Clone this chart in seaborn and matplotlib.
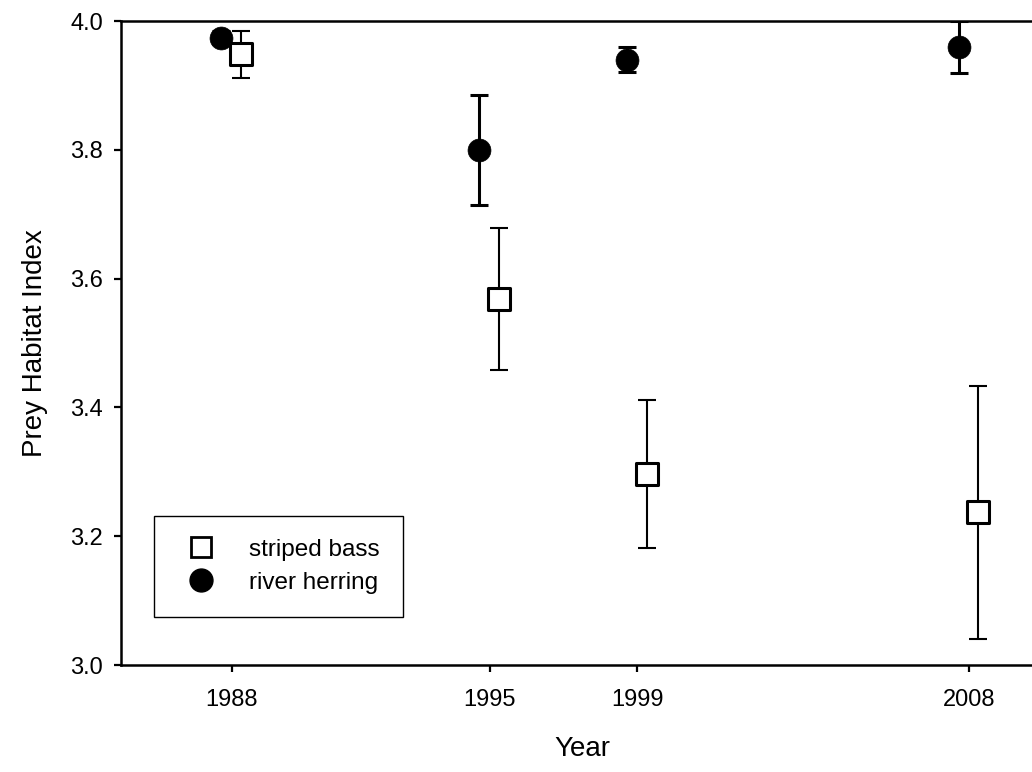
import numpy as np
import pandas as pd
import matplotlib
matplotlib.use("Agg")
import matplotlib.pyplot as plt
import seaborn as sns
from matplotlib.lines import Line2D

# Survey years and prey habitat index (mean and error) per species
years = [1988, 1995, 1999, 2008]
bass_mean = [3.948, 3.568, 3.296, 3.237]
bass_err = [0.036, 0.110, 0.115, 0.196]
herring_mean = [3.974, 3.800, 3.940, 3.960]
herring_err = [0.010, 0.085, 0.019, 0.040]

# small horizontal offsets so the two species do not overlap
bass_shift = 0.25
herring_shift = -0.28

sns.set_theme(style="ticks")
plt.rcParams["font.family"] = ["Liberation Sans", "DejaVu Sans"]
plt.rcParams["text.color"] = "black"
plt.rcParams["axes.labelcolor"] = "black"

df = pd.DataFrame({
    "Year": np.concatenate([np.array(years) + herring_shift, np.array(years) + bass_shift]),
    "Index": herring_mean + bass_mean,
    "err": herring_err + bass_err,
    "Species": ["river herring"] * 4 + ["striped bass"] * 4,
})
herr = df[df["Species"] == "river herring"]
bass = df[df["Species"] == "striped bass"]

fig = plt.figure(figsize=(10.32, 7.72), dpi=100)
ax = fig.add_axes([121 / 1032, 107 / 772, 922 / 1032, 644 / 772])

# river herring: thick error bars, filled circles
ax.errorbar(herr["Year"], herr["Index"], yerr=herr["err"], fmt="none",
            ecolor="black", elinewidth=2.2, capsize=6.7, capthick=2.2, zorder=2)
sns.scatterplot(data=herr, x="Year", y="Index", marker="o", s=16.5 ** 2,
                color="black", edgecolor="black", linewidth=0.5, ax=ax,
                zorder=3, legend=False)

# striped bass: thin error bars, open squares
ax.errorbar(bass["Year"], bass["Index"], yerr=bass["err"], fmt="none",
            ecolor="black", elinewidth=1.5, capsize=6.7, capthick=1.5, zorder=4)
sns.scatterplot(data=bass, x="Year", y="Index", marker="s", s=15.5 ** 2,
                color="white", edgecolor="black", linewidth=2.2, ax=ax,
                zorder=5, legend=False)

ax.set_xlim(1985, 2010)
ax.set_ylim(3.0, 4.0)
ax.set_xticks(years)
ax.set_xticklabels([str(y) for y in years])
ax.set_yticks(np.arange(3.0, 4.01, 0.2))
ax.set_yticklabels([f"{v:.1f}" for v in np.arange(3.0, 4.01, 0.2)])

for side in ["left", "bottom", "top"]:
    ax.spines[side].set_linewidth(1.8)
    ax.spines[side].set_color("black")
ax.spines["right"].set_visible(False)

ax.tick_params(axis="both", direction="out", length=5, width=1.6,
               color="black", labelsize=17, labelcolor="black")
ax.tick_params(axis="x", pad=12)
ax.tick_params(axis="y", pad=8)

ax.set_xlabel("Year", fontsize=20, labelpad=18, color="black")
ax.set_ylabel("Prey Habitat Index", fontsize=20, labelpad=16, color="black")

handles = [
    Line2D([], [], linestyle="none", marker="s", markersize=15,
           markerfacecolor="white", markeredgecolor="black", markeredgewidth=2.0),
    Line2D([], [], linestyle="none", marker="o", markersize=16.5,
           markerfacecolor="black", markeredgecolor="black"),
]
leg = ax.legend(handles, ["striped bass", "river herring"],
                loc="lower left", bbox_to_anchor=(33 / 922, 48 / 644),
                fontsize=17.5, frameon=True, fancybox=False,
                borderpad=0.95, handletextpad=0.95, labelspacing=0.45,
                handlelength=2.0, borderaxespad=0)
for t in leg.get_texts():
    t.set_color("black")
frame = leg.get_frame()
frame.set_edgecolor("black")
frame.set_linewidth(1.0)
frame.set_alpha(1)

fig.savefig("out.png", dpi=100)
